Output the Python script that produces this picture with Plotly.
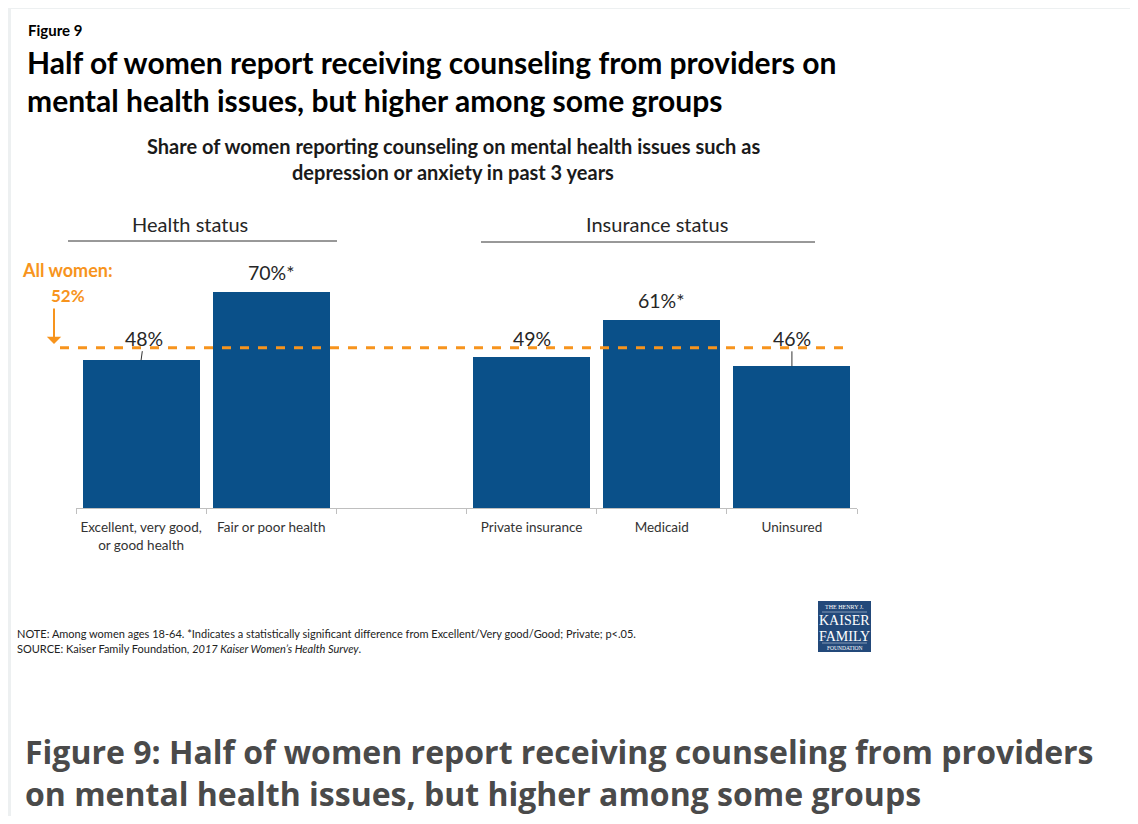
import plotly.graph_objects as go

# ---- data ----
categories = ["Excellent, very good,<br>or good health", "Fair or poor health",
              "Private insurance", "Medicaid", "Uninsured"]
positions = [0, 1, 3, 4, 5]
values = [48, 70, 49, 61, 46]
value_labels = ["48%", "70%*", "49%", "61%*", "46%"]
label_offsets = [22, 20, 19, 20, 28]
leader = [True, False, False, False, True]
all_women = 52
groups = ["Health status", "Insurance status"]

OFF = 8  # page body margin
W, H = 1138 - 2 * OFF, 824 - 2 * OFF
# plot area in page pixel coordinates
L, R, T, B = 76, 857, 200, 508
BAR = "#0A5089"
ORANGE = "#F7941D"
TXT = "#262626"
FONT = "Lato, 'Open Sans', sans-serif"


def px(x):
    return (x - L) / (R - L)


def py(y):
    return (B - y) / (B - T)


fig = go.Figure()
fig.add_trace(go.Bar(x=positions, y=values, width=0.9, marker=dict(color=BAR, line=dict(width=0)),
                     hoverinfo="skip", showlegend=False))

annotations = []
shapes = []

# value labels
for xp, v, lab, off, ld in zip(positions, values, value_labels, label_offsets, leader):
    if ld:
        annotations.append(dict(x=xp, y=v, xref="x", yref="y", text=lab, showarrow=True,
                                arrowhead=0, arrowwidth=1, arrowcolor="#333333",
                                ax=3 if xp == 0 else 0, ay=-off, standoff=0,
                                font=dict(family=FONT, size=19.5, color=TXT)))
    else:
        annotations.append(dict(x=xp, y=v, xref="x", yref="y", text=lab, showarrow=False,
                                yshift=off, font=dict(family=FONT, size=19.5, color=TXT)))

# average line
shapes.append(dict(type="line", xref="paper", yref="y", x0=px(60), x1=px(852),
                   y0=all_women, y1=all_women, line=dict(color=ORANGE, width=3, dash="dash")))
annotations.append(dict(xref="paper", yref="paper", x=px(20), y=py(270), xanchor="left",
                        yanchor="middle", showarrow=False, text="<b>All women:</b>",
                        font=dict(family=FONT, size=18, color=ORANGE)))
annotations.append(dict(xref="paper", yref="paper", x=px(68), y=py(295), xanchor="center",
                        yanchor="middle", showarrow=False, text=f"<b>{all_women}%</b>",
                        font=dict(family=FONT, size=17, color=ORANGE)))
annotations.append(dict(xref="paper", yref="paper", x=px(54), y=py(344), text="",
                        showarrow=True, arrowhead=1, arrowsize=1.2, arrowwidth=2,
                        arrowcolor=ORANGE, ax=0, ay=-37))

# group headers
for g, cx, x0, x1, ly in [(groups[0], 190, 68, 337, 241), (groups[1], 657, 481, 815, 242)]:
    annotations.append(dict(xref="paper", yref="paper", x=px(cx), y=py(224), xanchor="center",
                            yanchor="middle", showarrow=False, text=g,
                            font=dict(family=FONT, size=20, color=TXT)))
    shapes.append(dict(type="line", xref="paper", yref="paper", x0=px(x0), x1=px(x1),
                       y0=py(ly), y1=py(ly), line=dict(color="#333333", width=1)))

# titles
annotations.append(dict(xref="paper", yref="paper", x=px(26), y=py(30), xanchor="left",
                        yanchor="middle", showarrow=False, text="<b>Figure 9</b>",
                        font=dict(family=FONT, size=15, color="#000000")))
for i, line in enumerate(["Half of women report receiving counseling from providers on",
                          "mental health issues, but higher among some groups"]):
    annotations.append(dict(xref="paper", yref="paper", x=px(25), y=py(62 + 38 * i),
                            xanchor="left", yanchor="middle", showarrow=False,
                            text=f"<b>{line}</b>",
                            font=dict(family=FONT, size=30, color="#000000")))
for i, line in enumerate(["Share of women reporting counseling on mental health issues such as",
                          "depression or anxiety in past 3 years"]):
    annotations.append(dict(xref="paper", yref="paper", x=px(453), y=py(146 + 26 * i),
                            xanchor="center", yanchor="middle", showarrow=False,
                            text=f"<b>{line}</b>",
                            font=dict(family=FONT, size=20, color="#1a1a1a")))

# notes
annotations.append(dict(xref="paper", yref="paper", x=px(15), y=py(633), xanchor="left",
                        yanchor="middle", showarrow=False,
                        text="NOTE: Among women ages 18-64. *Indicates a statistically significant difference from Excellent/Very good/Good; Private; p<.05.",
                        font=dict(family=FONT, size=11, color="#222222")))
annotations.append(dict(xref="paper", yref="paper", x=px(15), y=py(648), xanchor="left",
                        yanchor="middle", showarrow=False,
                        text="SOURCE: Kaiser Family Foundation, <i>2017 Kaiser Women’s Health Survey</i>.",
                        font=dict(family=FONT, size=11, color="#222222")))

# logo
LOGO = "#23497A"
shapes.append(dict(type="rect", xref="paper", yref="paper", x0=px(818), x1=px(871),
                   y0=py(652), y1=py(601), fillcolor=LOGO, line=dict(width=0)))
for txt, yy, sz in [("THE HENRY J.", 607, 6), ("KAISER", 620, 14), ("FAMILY", 636, 14),
                    ("FOUNDATION", 648, 5.5)]:
    annotations.append(dict(xref="paper", yref="paper", x=px(844.5), y=py(yy), xanchor="center",
                            yanchor="middle", showarrow=False, text=txt,
                            font=dict(family="Liberation Serif, serif", size=sz, color="white")))
for yy in [612, 643]:
    shapes.append(dict(type="line", xref="paper", yref="paper", x0=px(822), x1=px(867),
                       y0=py(yy), y1=py(yy), line=dict(color="#c8d2e0", width=0.6)))

# page frame
shapes.append(dict(type="rect", xref="paper", yref="paper", x0=px(8), x1=px(1138),
                   y0=py(9), y1=py(5), fillcolor="#EDF0F1", line=dict(width=0), layer="below"))
shapes.append(dict(type="rect", xref="paper", yref="paper", x0=px(8), x1=px(11),
                   y0=py(824), y1=py(5), fillcolor="#EDF0F1", line=dict(width=0), layer="below"))

# caption
for i, line in enumerate(["Figure 9: Half of women report receiving counseling from providers",
                          "on mental health issues, but higher among some groups"]):
    annotations.append(dict(xref="paper", yref="paper", x=px(23), y=py(751 + 42 * i),
                            xanchor="left", yanchor="middle", showarrow=False,
                            text=f"<b>{line}</b>",
                            font=dict(family="'Open Sans', sans-serif", size=32, color="#4a4a4a")))

fig.update_layout(
    width=W, height=H,
    margin=dict(l=L - OFF, r=W - (R - OFF), t=T - OFF, b=H - (B - OFF), autoexpand=False),
    paper_bgcolor="white", plot_bgcolor="white",
    bargap=0,
    annotations=annotations, shapes=shapes,
    showlegend=False,
    xaxis=dict(range=[-0.5, 5.5], tickvals=positions, ticktext=categories, ticks="",
               showline=True, linecolor="#BFBFBF", linewidth=1, showgrid=False, zeroline=False,
               tickfont=dict(family=FONT, size=13.5, color="#333333"), ticklabelstandoff=7,
               minor=dict(tickvals=[-0.5, 0.5, 1.5, 2.5, 3.5, 4.5, 5.5], ticks="outside",
                          ticklen=5, tickcolor="#BFBFBF", tickwidth=1, showgrid=False),
               fixedrange=True),
    yaxis=dict(range=[0, 100], visible=False, fixedrange=True),
)

fig.write_html("out.html")
